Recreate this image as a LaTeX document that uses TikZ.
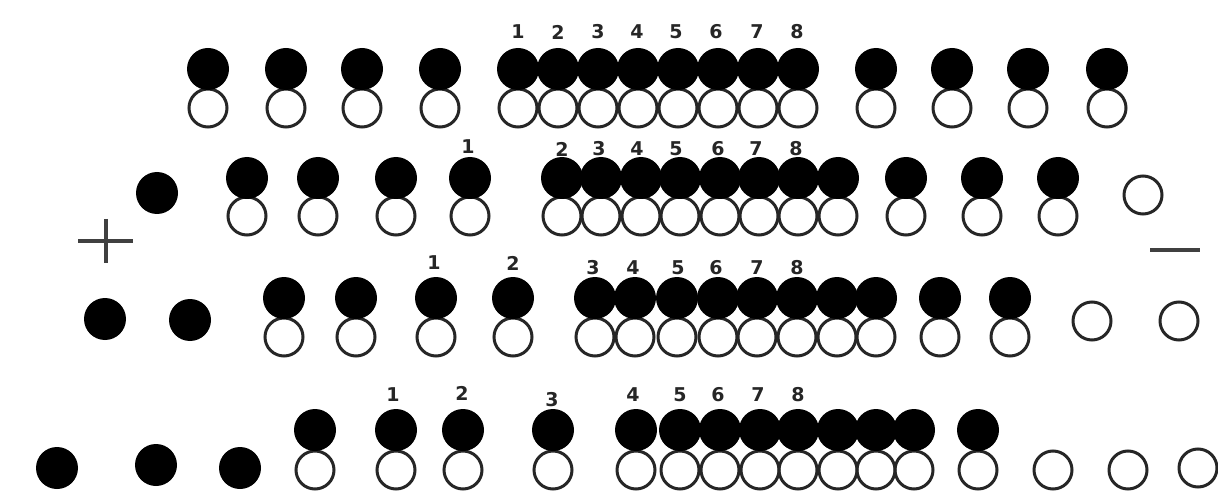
\documentclass[tikz,border=0pt]{standalone}
\usepackage{fontspec}
\newfontfamily\numfont{DejaVu Sans}
\begin{document}
\begin{tikzpicture}[x=1pt,y=-1pt,
  bead/.style={circle,fill=black,inner sep=0pt,minimum size=42pt},
  hole/.style={circle,draw=black!85,line width=3pt,inner sep=0pt,minimum size=38pt},
  num/.style={font=\numfont\bfseries\fontsize{19}{19}\selectfont,inner sep=0pt,text=black!85},
  pole/.style={line width=3.2pt,draw=black!75}]
\useasboundingbox[fill=white] (0,0) rectangle (1218,497);

% ---------- row 1 ----------
\foreach \x [count=\i] in {208,286,362,440,518,558,598,638,678,718,758,798,876,952,1028,1107}{
  \node[hole] (a\i o) at (\x,108) {};
  \node[bead] (a\i f) at (\x,69) {};
}
\foreach \x/\t [count=\i] in {518/1,558/2,598/3,637/4,676/5,716/6,757/7,797/8}{
  \node[num] (la\i) at (\x,32) {\t};
}

% ---------- row 2 ----------
\node[bead] (b0) at (157,193) {};
\foreach \x [count=\i] in {247,318,396,470,562,601,641,680,720,759,798,838,906,982,1058}{
  \node[hole] (b\i o) at (\x,216) {};
  \node[bead] (b\i f) at (\x,178) {};
}
\node[hole] (b16) at (1143,195) {};
\node[num] (lb1) at (468,147) {1};
\foreach \x/\t [count=\i] in {562/2,599/3,637/4,676/5,718/6,756/7,796/8}{
  \node[num] (lb\t) at (\x,149) {\t};
}
\draw[pole] (78,241) -- (133,241) (106,219) -- (106,263);
\draw[pole] (1150,250) -- (1200,250);

% ---------- row 3 ----------
\node[bead] (c0a) at (105,319) {};
\node[bead] (c0b) at (190,320) {};
\foreach \x [count=\i] in {284,356,436,513,595,635,677,718,757,797,837,876,940,1010}{
  \node[hole] (c\i o) at (\x,337) {};
  \node[bead] (c\i f) at (\x,298) {};
}
\node[hole] (c15) at (1092,321) {};
\node[hole] (c16) at (1179,321) {};
\node[num] (lc1) at (434,263) {1};
\node[num] (lc2) at (513,263) {2};
\foreach \x/\t in {593/3,633/4,678/5,716/6,757/7,797/8}{
  \node[num] (lc\t) at (\x,268) {\t};
}

% ---------- row 4 ----------
\node[bead] (d0a) at (57,468) {};
\node[bead] (d0b) at (156,465) {};
\node[bead] (d0c) at (240,468) {};
\foreach \x [count=\i] in {315,396,463,553,636,680,720,760,798,838,876,914,978}{
  \node[hole] (d\i o) at (\x,470) {};
  \node[bead] (d\i f) at (\x,430) {};
}
\node[hole] (d14) at (1053,470) {};
\node[hole] (d15) at (1128,470) {};
\node[hole] (d16) at (1198,468) {};
\node[num] (ld1) at (393,395) {1};
\node[num] (ld2) at (462,393) {2};
\node[num] (ld3) at (552,400) {3};
\foreach \x/\t in {633/4,680/5,718/6,758/7,798/8}{
  \node[num] (ld\t) at (\x,395) {\t};
}
\end{tikzpicture}
\end{document}
